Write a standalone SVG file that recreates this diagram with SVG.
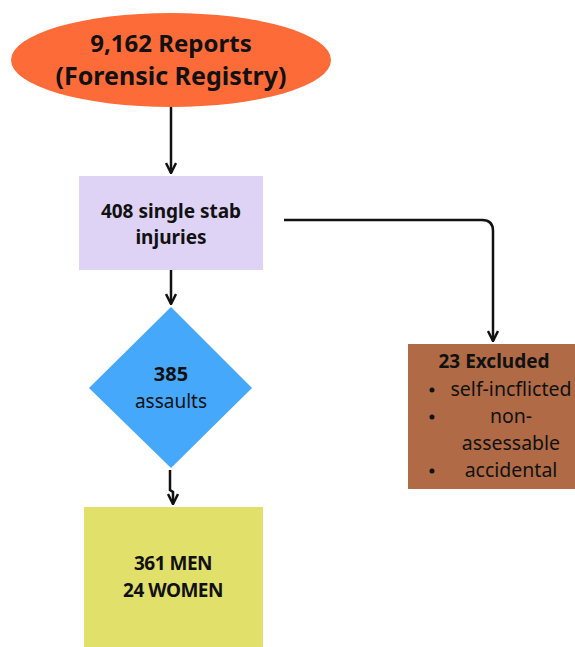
<svg xmlns="http://www.w3.org/2000/svg" width="575" height="647" viewBox="0 0 575 647">
<style>
text{font-family:"Noto Sans","Liberation Sans",sans-serif;fill:#111;text-anchor:middle}
.b{font-weight:bold}
.c{fill:none;stroke:#111;stroke-width:2.5}
</style>
<defs>
<marker id="ah" viewBox="0 0 10 10" refX="9" refY="5" markerWidth="5" markerHeight="5" orient="auto-start-reverse">
<path d="M1,1 L9,5 L1,9" fill="none" stroke="#111" stroke-width="2"/>
</marker>
</defs>
<rect width="575" height="647" fill="#fff"/>
<g id="connectors">
<path class="c" d="M171,107 V173" marker-end="url(#ah)"/>
<path class="c" d="M171,270 V304" marker-end="url(#ah)"/>
<path class="c" d="M284,220 H482 Q493,220 493,231 V341" marker-end="url(#ah)"/>
<path class="c" d="M170,470 V490 L173,492 V504" marker-end="url(#ah)"/>
</g>
<g id="reports">
<ellipse cx="171" cy="60" rx="160" ry="47" fill="#FD6B39"/>
<text class="b" x="171" y="52" font-size="24">9,162 Reports</text>
<text class="b" x="171" y="85" font-size="25">(Forensic Registry)</text>
</g>
<g id="single-stab">
<rect x="79" y="176" width="184" height="94" fill="#DED3F4"/>
<text class="b" x="171" y="218" font-size="19">408 single stab</text>
<text class="b" x="171" y="244" font-size="19">injuries</text>
</g>
<g id="assaults">
<polygon points="171,307 252,388 171,468 89,388" fill="#45A8FA"/>
<text class="b" x="171" y="381" font-size="20">385</text>
<text x="171" y="408" font-size="19">assaults</text>
</g>
<g id="men-women">
<rect x="84" y="507" width="179" height="140" fill="#E0E06A"/>
<text class="b" x="173" y="570" font-size="19" letter-spacing="-0.5">361 MEN</text>
<text class="b" x="173" y="597" font-size="19" letter-spacing="-0.5">24 WOMEN</text>
</g>
<g id="excluded">
<rect x="408" y="344" width="167" height="145" fill="#B06A46"/>
<text class="b" x="494" y="368" font-size="19">23 Excluded</text>
<circle cx="432" cy="390" r="2.5" fill="#111"/>
<circle cx="432" cy="417" r="2.5" fill="#111"/>
<circle cx="432" cy="471" r="2.5" fill="#111"/>
<text x="511" y="396" font-size="19.5">self-incflicted</text>
<text x="511" y="423" font-size="19.5">non-</text>
<text x="511" y="450" font-size="19.5">assessable</text>
<text x="511" y="477" font-size="19.5">accidental</text>
</g>
</svg>
